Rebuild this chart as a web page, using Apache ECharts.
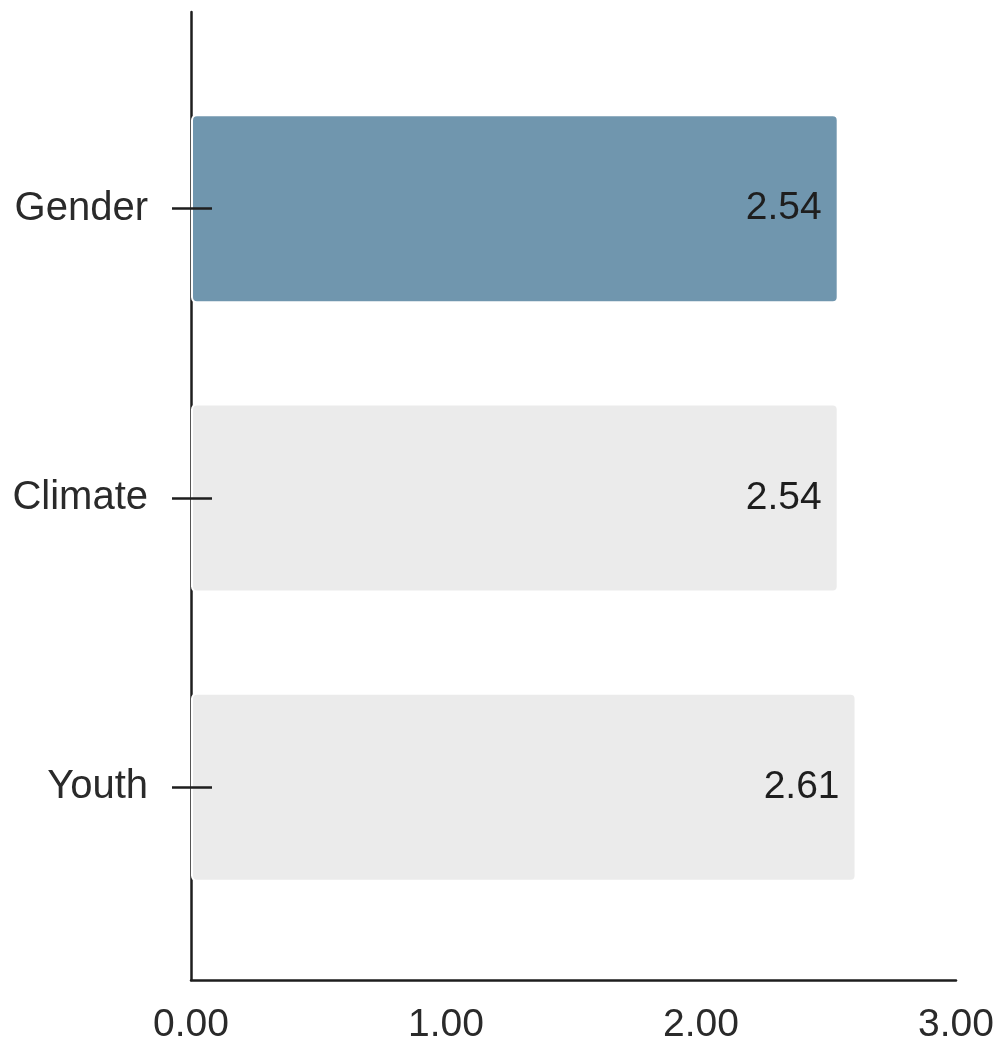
<!DOCTYPE html>
<html>
<head>
<meta charset="utf-8">
<script src="https://cdn.jsdelivr.net/npm/echarts@6/dist/echarts.min.js"></script>
<style>
  html, body { margin: 0; padding: 0; background: #ffffff; }
  #chart { width: 1000px; height: 1049px; }
</style>
</head>
<body>
<div id="chart"></div>
<script>
// Average scores per theme
const categories = ['Gender', 'Climate', 'Youth'];
const scores = [2.54, 2.54, 2.61];
const highlighted = 'Gender';
const xTicks = [0, 1, 2, 3];

const FONT = '"Liberation Sans", Arial, sans-serif';
const INK = '#1e1e1e';
const HIGHLIGHT = '#7096ae';
const MUTED = '#ebebeb';

const chart = echarts.init(document.getElementById('chart'), null, { renderer: 'canvas' });

chart.setOption({
  animation: false,
  backgroundColor: '#ffffff',
  grid: [
    // bars sit in this band
    { left: 191, width: 765, top: 64, height: 868 },
    // frame with the axis lines and value ticks
    { left: 191, width: 765, top: 12, height: 968 }
  ],
  xAxis: [
    { gridIndex: 0, type: 'value', min: xTicks[0], max: xTicks[xTicks.length - 1], show: false },
    {
      gridIndex: 1, type: 'value', min: xTicks[0], max: xTicks[xTicks.length - 1], interval: 1,
      axisLine: { show: true, lineStyle: { color: INK, width: 2.5 } },
      axisTick: { show: false },
      splitLine: { show: false },
      axisLabel: {
        margin: 26, fontFamily: FONT, fontSize: 39, color: '#2a2a2a',
        formatter: v => v.toFixed(2)
      },
      z: 0
    }
  ],
  yAxis: [
    {
      gridIndex: 0, type: 'category', position: 'left', data: categories, inverse: true,
      axisLine: { show: false },
      axisTick: { show: true, alignWithLabel: true, length: 19, lineStyle: { color: INK, width: 2.5 } },
      axisLabel: { margin: 43, fontFamily: FONT, fontSize: 40, color: '#2a2a2a' },
      z: 5
    },
    {
      gridIndex: 0, type: 'category', position: 'left', data: categories, inverse: true,
      axisLine: { show: false },
      axisTick: { show: true, inside: true, alignWithLabel: true, length: 21, lineStyle: { color: INK, width: 2.5 } },
      axisLabel: { show: false },
      z: 5
    },
    {
      gridIndex: 1, type: 'value', position: 'left', min: 0, max: 1,
      axisLine: { show: true, lineStyle: { color: INK, width: 2.5 } },
      axisTick: { show: false },
      axisLabel: { show: false },
      splitLine: { show: false },
      z: 0
    }
  ],
  series: [
    {
      type: 'bar',
      xAxisIndex: 0,
      yAxisIndex: 0,
      barWidth: 189,
      z: 2,
      data: scores.map((v, i) => ({
        value: v,
        itemStyle: { color: categories[i] === highlighted ? HIGHLIGHT : MUTED }
      })),
      itemStyle: { borderColor: '#ffffff', borderWidth: 2, borderRadius: 5 },
      label: {
        show: true,
        position: 'insideRight',
        distance: 17,
        fontFamily: FONT,
        fontSize: 39,
        color: INK,
        formatter: p => p.value.toFixed(2)
      }
    }
  ]
});
</script>
</body>
</html>
